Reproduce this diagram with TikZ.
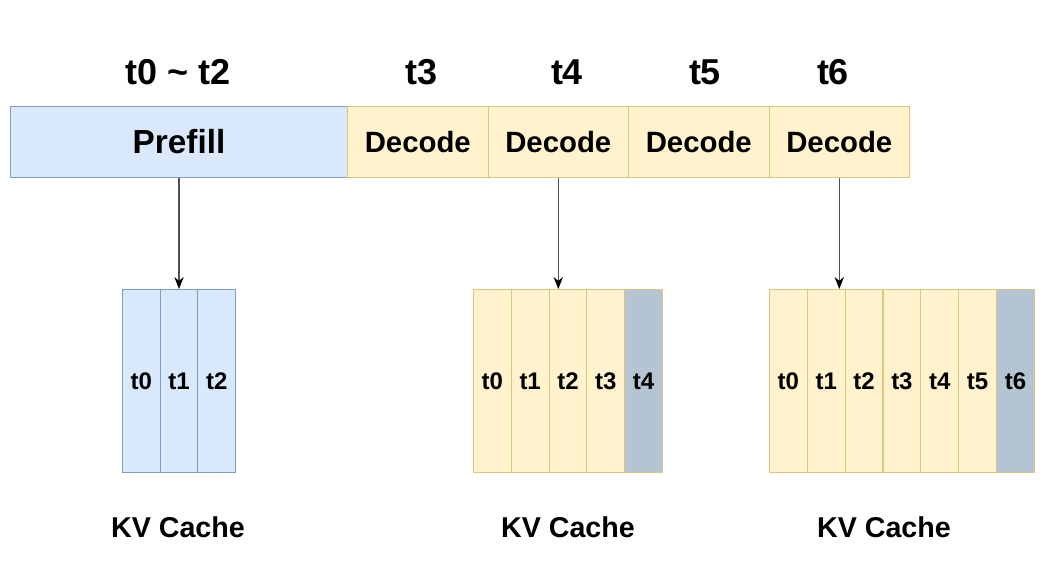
\documentclass[tikz,border=0pt]{standalone}
\usepackage{fontspec}
\setmainfont{Liberation Sans}
\usetikzlibrary{arrows.meta}

\definecolor{bluefill}{HTML}{DAE8FC}
\definecolor{blueline}{HTML}{7F9CC4}
\definecolor{yellowfill}{HTML}{FFF2CC}
\definecolor{yellowline}{HTML}{DCC67E}
\definecolor{grayfill}{HTML}{B4C4D2}
\definecolor{arrowgray}{HTML}{505050}

\begin{document}
\begin{tikzpicture}[x=0.75pt, y=-0.75pt,
    prefillbox/.style={draw=blueline, fill=bluefill, line width=0.75pt, inner sep=0pt, anchor=north west,
      minimum width=252.75pt, minimum height=53.25pt, font=\fontsize{25}{30}\selectfont\bfseries},
    decodebox/.style={draw=yellowline, fill=yellowfill, line width=0.75pt, inner sep=0pt, anchor=north west,
      minimum width=105.4pt, minimum height=53.25pt, font=\fontsize{22}{26}\selectfont\bfseries},
    stepname/.style={font=\fontsize{27}{32}\selectfont\bfseries},
    bluecell/.style={draw=blueline, fill=bluefill, line width=0.75pt, inner sep=0pt, anchor=north west,
      minimum width=28.3pt, minimum height=137.25pt, font=\fontsize{18}{22}\selectfont\bfseries},
    yellowcell/.style={bluecell, draw=yellowline, fill=yellowfill},
    graycell/.style={bluecell, draw=yellowline, fill=grayfill},
    cachename/.style={font=\fontsize{21.5}{26}\selectfont\bfseries},
    flow/.style={draw=arrowgray, line width=0.9pt, -{Stealth[length=9pt, width=7pt, color=black]}}
  ]
  \useasboundingbox (0,0) rectangle (1061,578);

  % time steps
  \node[stepname] (lpre) at (178,72) {t0 \textasciitilde{} t2};
  \node[stepname] (l3) at (422,72) {t3};
  \node[stepname] (l4) at (567,72) {t4};
  \node[stepname] (l5) at (705,72) {t5};
  \node[stepname] (l6) at (833,72) {t6};

  % prefill / decode bar
  \node[prefillbox] (pre) at (10,106) {Prefill};
  \node[decodebox] (d3) at (347,106) {Decode};
  \node[decodebox] (d4) at (487.5,106) {Decode};
  \node[decodebox] (d5) at (628,106) {Decode};
  \node[decodebox] (d6) at (768.5,106) {Decode};

  % kv caches
  \foreach \i in {0,1,2}
    \node[bluecell] (c1-\i) at (122+37.7*\i,289) {t\i};
  \foreach \i in {0,...,3}
    \node[yellowcell] (c2-\i) at (473+37.8*\i,289) {t\i};
  \node[graycell] (c2-4) at (473+37.8*4,289) {t4};
  \foreach \i in {0,...,5}
    \node[yellowcell] (c3-\i) at (769+37.85*\i,289) {t\i};
  \node[graycell] (c3-6) at (769+37.85*6,289) {t6};

  \node[cachename] (k1) at (178,527) {KV Cache};
  \node[cachename] (k2) at (568,527) {KV Cache};
  \node[cachename] (k3) at (884,527) {KV Cache};

  % arrows
  \draw[flow] (pre.south) -- (pre.south |- c1-1.north);
  \draw[flow] (d4.south) -- (d4.south |- c2-2.north);
  \draw[flow] (d6.south) -- (d6.south |- c3-1.north);
\end{tikzpicture}
\end{document}
